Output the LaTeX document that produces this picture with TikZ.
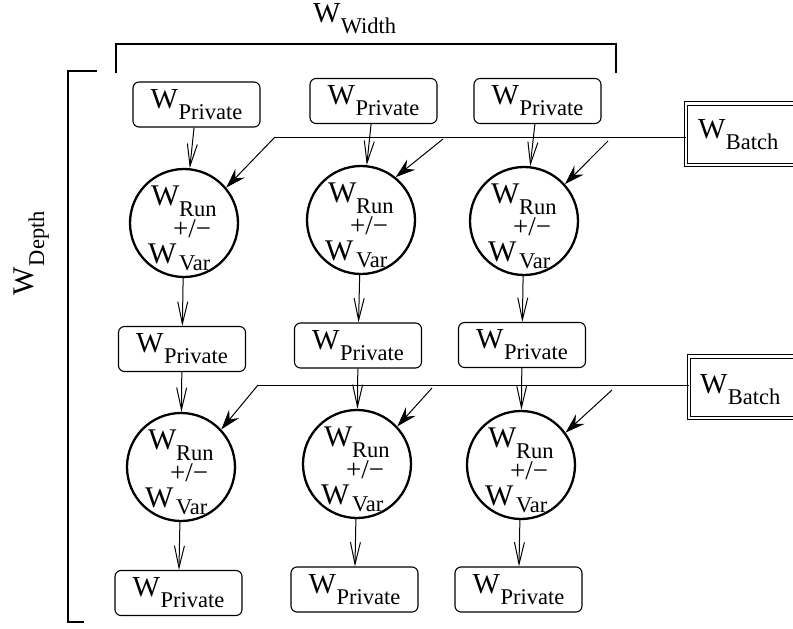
\documentclass[tikz,border=0pt]{standalone}
\usepackage{fontspec}
\setmainfont{Liberation Serif}
\usetikzlibrary{arrows.meta,calc}
\newcommand{\bigW}{\fontsize{29}{30}\selectfont}
\newcommand{\circW}{\fontsize{30}{31}\selectfont}
\newcommand{\subF}{\fontsize{22.5}{24}\selectfont}
\newcommand{\wlab}[1]{{\bigW W\kern0.5pt\raisebox{-11pt}{\subF #1}}}
\newcommand{\circtext}[1]{%
  \node[txt,anchor=base west] (#1wa) at ([shift={(-33,-18)}]#1.center) {\circW W};
  \node[txt,anchor=base west] (#1run) at ([shift={(-5,-7)}]#1.center) {\subF Run};
  \node[txt,anchor=base] (#1pm) at ([shift={(8,14)}]#1.center) {\fontsize{27}{28}\selectfont +/−};
  \node[txt,anchor=base west] (#1wb) at ([shift={(-36,40)}]#1.center) {\circW W};
  \node[txt,anchor=base west] (#1var) at ([shift={(-5,47)}]#1.center) {\subF Var};
}
\begin{document}
\begin{tikzpicture}[x=1pt,y=-1pt,
  txt/.style={inner sep=0pt, outer sep=0pt},
  privbox/.style={draw, line width=1.1pt, rounded corners=6pt, minimum width=127pt, minimum height=45pt, inner sep=0pt},
  wcirc/.style={draw, circle, line width=2.3pt, minimum size=108pt, inner sep=0pt},
  batchbox/.style={draw, double, line width=1pt, double distance=2.6pt, minimum width=114pt, minimum height=61.6pt, inner sep=0pt},
  flow/.style={line width=1pt, -{Straight Barb[length=22pt,width=10pt,line width=1pt]}},
  batcharrow/.style={line width=1pt, -{Stealth[length=20pt,width=13pt,inset=7pt]}},
  brk/.style={line width=1.2pt}]
\useasboundingbox (0,0) rectangle (793,629);

% brackets and dimension labels
\draw[brk] (116,73) -- (116,44) -- (616,44) -- (616,73);
\node[txt,anchor=base west] (width) at (313,23) {{\fontsize{29}{30}\selectfont W\kern0.5pt\raisebox{-10pt}{\subF Width}}};
\draw[brk] (97,71) -- (68,71) -- (68,622) -- (84,622);
\node[txt,anchor=base west,rotate=90] (depth) at (33,295) {{\fontsize{30}{31}\selectfont W\kern0.5pt\raisebox{-11pt}{\subF Depth}}};

% private boxes
\node[privbox] (p1) at (196.5,104.5) {\wlab{Private}};
\node[privbox] (p2) at (373.5,101) {\wlab{Private}};
\node[privbox] (p3) at (537.5,101) {\wlab{Private}};
\node[privbox] (p4) at (182,349) {\wlab{Private}};
\node[privbox] (p5) at (358,345.5) {\wlab{Private}};
\node[privbox] (p6) at (522,345) {\wlab{Private}};
\node[privbox] (p7) at (178.5,593) {\wlab{Private}};
\node[privbox] (p8) at (354.5,589.5) {\wlab{Private}};
\node[privbox] (p9) at (518.5,589.5) {\wlab{Private}};

% circles
\node[wcirc] (c1) at (184,223) {};
\node[wcirc] (c2) at (361,220) {};
\node[wcirc] (c3) at (524,221) {};
\node[wcirc] (c4) at (181,467) {};
\node[wcirc] (c5) at (357,464) {};
\node[wcirc] (c6) at (521,465) {};
\circtext{c1}
\circtext{c2}
\circtext{c3}
\circtext{c4}
\circtext{c5}
\circtext{c6}

% batch boxes
\node[batchbox] (b1) at (743,134) {};
\node[txt,anchor=base west] (b1t) at (698,138) {\wlab{Batch}};
\node[batchbox] (b2) at (746,387) {};
\node[txt,anchor=base west] (b2t) at (700,393) {\wlab{Batch}};

% vertical flow
\draw[flow] (p1) -- (c1);
\draw[flow] (p2) -- (c2);
\draw[flow] (p3) -- (c3);
\draw[flow] (c1) -- (p4);
\draw[flow] (c2) -- (p5);
\draw[flow] (c3) -- (p6);
\draw[flow] (p4) -- (c4);
\draw[flow] (p5) -- (c5);
\draw[flow] (p6) -- (c6);
\draw[flow] (c4) -- (p7);
\draw[flow] (c5) -- (p8);
\draw[flow] (c6) -- (p9);

% batch connectors
\coordinate (k1) at (275,137);
\coordinate (a2) at (443,139);
\coordinate (a3) at (608,141);
\draw[line width=1pt] (b1.west |- k1) -- (k1);
\draw[batcharrow] (k1) -- (c1.40);
\draw[batcharrow] (a2) -- (c2.51);
\draw[batcharrow] (a3) -- (c3.42);

\coordinate (k2) at (258,385);
\coordinate (a5) at (432,388);
\coordinate (a6) at (612,390);
\draw[line width=1pt] (b2.west |- k2) -- (k2);
\draw[batcharrow] (k2) -- (c4.43);
\draw[batcharrow] (a5) -- (c5.43);
\draw[batcharrow] (a6) -- (c6.36);
\end{tikzpicture}
\end{document}
